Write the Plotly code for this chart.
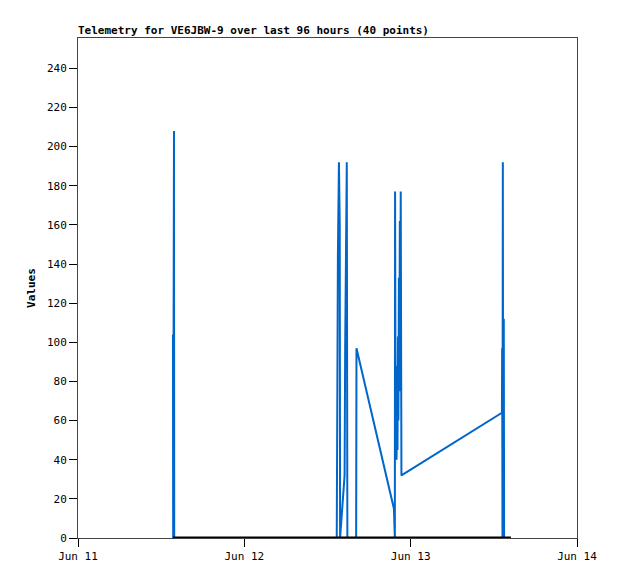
import plotly.graph_objects as go

# telemetry samples (local time) and values
times = [
    "2024-06-11 13:42", "2024-06-11 13:44", "2024-06-11 13:51", "2024-06-11 13:53",
    "2024-06-12 13:20", "2024-06-12 13:22", "2024-06-12 13:30", "2024-06-12 13:39",
    "2024-06-12 13:46", "2024-06-12 13:49",
    "2024-06-12 14:28", "2024-06-12 14:33", "2024-06-12 14:40", "2024-06-12 14:47",
    "2024-06-12 14:52",
    "2024-06-12 16:08", "2024-06-12 16:11",
    "2024-06-12 21:35", "2024-06-12 21:43", "2024-06-12 21:45",
    "2024-06-12 21:50", "2024-06-12 21:54", "2024-06-12 21:58", "2024-06-12 22:02",
    "2024-06-12 22:06", "2024-06-12 22:10", "2024-06-12 22:14", "2024-06-12 22:18",
    "2024-06-12 22:22", "2024-06-12 22:26", "2024-06-12 22:30", "2024-06-12 22:34",
    "2024-06-12 22:40",
    "2024-06-13 13:10", "2024-06-13 13:12", "2024-06-13 13:15", "2024-06-13 13:18",
    "2024-06-13 13:21", "2024-06-13 13:26", "2024-06-13 13:29",
]
values = [
    104, 0, 208, 0,
    0, 72, 144, 192, 160, 0,
    32, 97, 160, 192, 0,
    0, 97,
    15, 0, 177,
    44, 88, 40, 73, 45, 103, 60, 133, 75, 162, 100, 177, 32,
    64, 97, 0, 192, 0, 112, 0,
]

# second channel, flat at zero
base_times = ["2024-06-11 13:42", "2024-06-13 14:28"]
base_values = [0, 0]

x_ticks = ["2024-06-11", "2024-06-12", "2024-06-13", "2024-06-14"]
x_labels = ["Jun 11", "Jun 12", "Jun 13", "Jun 14"]
y_ticks = list(range(0, 241, 20))

mono = "DejaVu Sans Mono, monospace"

fig = go.Figure()
fig.add_trace(go.Scatter(
    x=times, y=values, mode="lines",
    line=dict(color="#0066cc", width=2),
    showlegend=False,
))
fig.add_trace(go.Scatter(
    x=base_times, y=base_values, mode="lines",
    line=dict(color="#000000", width=3),
    showlegend=False,
))

fig.add_annotation(
    text="<b>Telemetry for VE6JBW-9 over last 96 hours (40 points)</b>",
    xref="paper", yref="paper", x=0, y=1, xanchor="left", yanchor="bottom",
    xshift=-2, yshift=-1, showarrow=False,
    font=dict(family=mono, size=11, color="#000000"),
)

fig.update_layout(
    width=618, height=579,
    margin=dict(l=70, r=49, t=30, b=49),
    paper_bgcolor="white", plot_bgcolor="white",
    font=dict(family=mono, size=10, color="#000000"),
    xaxis=dict(
        type="date", range=["2024-06-11", "2024-06-14"],
        tickvals=x_ticks, ticktext=x_labels,
        showgrid=False, zeroline=False,
        showline=True, linecolor="#444444", linewidth=1, mirror=True,
        ticks="outside", ticklen=8, tickwidth=1, tickcolor="#000000",
        tickfont=dict(family=mono, size=11),
    ),
    yaxis=dict(
        range=[0, 255.5], tickvals=y_ticks,
        showgrid=False, zeroline=False,
        showline=True, linecolor="#444444", linewidth=1, mirror=True,
        ticks="outside", ticklen=8, tickwidth=1, tickcolor="#000000",
        tickfont=dict(family=mono, size=11),
        title=dict(text="<b>Values</b>", font=dict(family=mono, size=11), standoff=9),
    ),
)

fig.write_html("out.html")
